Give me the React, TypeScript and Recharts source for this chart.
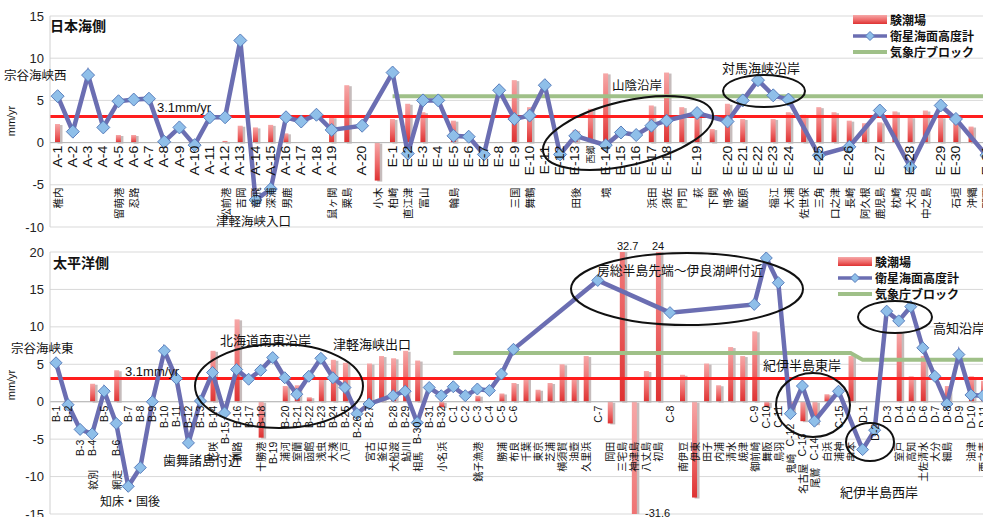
import React from 'react';
import { ComposedChart, Bar, Line, XAxis, YAxis, CartesianGrid, ReferenceLine } from 'recharts';

const NUM_FONT = "'Liberation Sans', Arial, 'Noto Sans CJK JP', sans-serif";
const JP_FONT = "'Noto Sans CJK JP', 'Liberation Sans', sans-serif";

// ---- 日本海側 ----
const jpCodes = [
  'A-1', 'A-2', 'A-3', 'A-4', 'A-5', 'A-6', 'A-7', 'A-8', 'A-9', 'A-10',
  'A-11', 'A-12', 'A-13', 'A-14', 'A-15', 'A-16', 'A-17', 'A-18', 'A-19', '',
  'A-20', '', 'E-1', 'E-2', 'E-3', 'E-4', 'E-5', 'E-6', 'E-7', 'E-8',
  'E-9', 'E-10', 'E-11', 'E-12', 'E-13', '西郷', 'E-14', 'E-15', 'E-16', 'E-17',
  'E-18', '', 'E-19', '', 'E-20', 'E-21', 'E-22', 'E-23', 'E-24', '',
  'E-25', '', 'E-26', '', 'E-27', '', 'E-28', '', 'E-29', 'E-30',
  '', 'E-31',
];
const jpNames = [
  '稚内', '', '', '', '留萌港', '忍路', '', '', '', '',
  '', '松前港', '吉岡', '竜飛', '深浦', '男鹿', '', '', '鼠ヶ関', '粟島',
  '', '小木', '柏崎', '直江津', '富山', '', '輪島', '', '', '',
  '三国', '舞鶴', '', '', '田後', '', '境', '', '', '浜田',
  '須佐', '門司', '萩', '下関', '博多', '厳原', '', '福江', '大浦', '佐世保',
  '三角', '口之津', '長崎', '阿久根', '鹿児島', '枕崎', '大泊', '中之島', '', '石垣',
  '沖縄', '那覇',
];
const jpGauge = [
  2.2, null, null, null, 0.9, 0.9, null, null, null, null,
  null, 0.2, 2.0, 1.8, 2.1, 1.1, null, null, 3.0, 6.8,
  null, -4.5, 2.8, 4.6, 3.6, null, 2.6, null, null, null,
  7.4, 4.2, null, null, 1.5, 4.0, 8.2, null, null, 4.4,
  8.3, 4.2, 3.8, 1.6, 4.6, 2.8, null, 2.8, 3.6, 3.3,
  4.2, 3.6, 2.6, 2.3, 2.4, 3.7, 3.0, 3.8, 3.0, 3.2,
  1.9, null,
];
const jpSat = [
  5.5, 1.3, 8.0, 1.8, 4.9, 5.1, 5.2, 0.1, 1.8, -0.3,
  3.0, 3.0, 12.1, -6.8, -5.5, 3.0, 2.5, 3.3, 1.5, null,
  2.0, null, 8.3, -1.3, 5.0, 5.0, 0.8, 0.7, -1.4, 6.2,
  2.8, 3.2, 6.8, -1.4, 0.8, null, -0.3, 1.2, 0.9, 2.0,
  2.6, null, 3.5, null, 2.5, 5.0, 7.4, 5.6, 5.1, null,
  -1.5, null, -0.5, null, 3.8, null, -2.9, null, 4.4, 2.8,
  null, -1.5,
];
const jpJma = [
  null, null, null, null, null, null, null, null, null, null,
  null, null, null, null, null, null, null, null, null, null,
  null, null, 5.5, 5.5, 5.5, 5.5, 5.5, 5.5, 5.5, 5.5,
  5.5, 5.5, 5.5, 5.5, 5.5, 5.5, 5.5, 5.5, 5.5, 5.5,
  5.5, 5.5, 5.5, 5.5, 5.5, 5.5, 5.5, 5.5, 5.5, 5.5,
  5.5, 5.5, 5.5, 5.5, 5.5, 5.5, 5.5, 5.5, 5.5, 5.5,
  5.5, 5.5,
];

// ---- 太平洋側 ----
const paCodes = [
  'B-1', 'B-2', 'B-3', 'B-4', 'B-5', 'B-6', 'B-7', 'B-8', 'B-9', 'B-10',
  'B-11', 'B-12', 'B-13', 'B-14', 'B-15', 'B-16', 'B-17', 'B-18', 'B-19', 'B-20',
  'B-21', 'B-22', 'B-23', 'B-24', 'B-25', 'B-26', 'B-27', '', 'B-28', 'B-29',
  'B-30', 'B-31', 'B-32', 'C-1', 'C-2', 'C-3', 'C-4', 'C-5', 'C-6', '',
  '', '', '', '', '', 'C-7', '', '', '', '',
  '', 'C-8', '', '', '', '', '', '', 'C-9', 'C-10',
  'C-11', 'C-12', 'C-13', 'C-14', '', 'C-15', '', 'D-1', 'D-2', 'D-3',
  'D-4', 'D-5', 'D-6', 'D-7', 'D-8', 'D-9', 'D-10', 'D-11',
];
const paNames = [
  '', '', '', '紋別', '', '網走', '', '', '', '',
  '', '', '', '花咲', '', '釧路', '', '十勝港', '', '浦河',
  '室蘭', '函館', '浅虫', '大湊', '八戸', '', '宮古', '釜石', '大船渡', '鮎川',
  '相馬', '', '小名浜', '', '', '銚子漁港', '', '勝浦', '布良', '千葉',
  '東京', '芝浦', '横須賀', '油壺', '久里浜', '', '岡田', '三宅島', '神津島', '八丈島',
  '初島', '', '南伊豆', '伊東', '田子', '内浦', '清水', '焼津', '御前崎', '舞阪',
  '鳥羽', '鬼崎', '名古屋', '尾鷲', '白浜', '浦神', '串本', '', '', '',
  '室戸', '高知', '土佐清水', '大分', '細島', '', '油津', '西之表',
];
const paGauge = [
  null, null, null, 2.4, null, 4.2, null, null, null, null,
  null, null, null, 6.8, null, 11.0, null, -4.8, null, 2.1,
  2.2, 0.6, 3.2, 5.6, 5.2, null, 5.1, 6.1, 5.8, 6.8,
  5.5, null, -0.7, null, null, 0.8, null, 1.1, 2.5, 3.2,
  1.6, 2.5, 5.0, 3.3, 6.1, null, -2.9, 32.7, -31.6, 4.1,
  24, null, 3.6, -12.8, 5.1, 2.2, 7.3, 6.1, 9.4, -0.7,
  null, -1.5, -2.6, -3.0, 1.0, null, 6.1, null, null, null,
  9.2, 3.4, 6.1, null, 2.1, null, 3.4, 2.8,
];
const paSat = [
  5.2, -0.4, -3.7, -4.3, 1.4, -2.9, -11.3, -8.8, 0.0, 6.8,
  3.1, -5.5, 0.1, 3.9, -1.5, 4.3, 3.0, 4.2, 5.9, 3.2,
  1.0, 3.4, 5.8, 3.2, 1.9, -1.6, -0.3, null, 0.8, 1.4,
  -2.8, 1.9, 0.8, 2.0, 0.8, 1.7, 1.5, 3.7, 7.0, null,
  null, null, null, null, null, 16.2, null, null, null, null,
  null, 11.9, null, null, null, null, null, null, 13.0, 19.2,
  15.9, -1.6, 2.1, -2.6, null, 1.4, null, -6.4, -3.8, 12.1,
  10.8, 12.7, 7.2, 3.4, -0.3, 6.3, 0.9, 0.8,
];
const paJma = [
  null, null, null, null, null, null, null, null, null, null,
  null, null, null, null, null, null, null, null, null, null,
  null, null, null, null, null, null, null, null, null, null,
  null, null, null, 6.5, 6.5, 6.5, 6.5, 6.5, 6.5, 6.5,
  6.5, 6.5, 6.5, 6.5, 6.5, 6.5, 6.5, 6.5, 6.5, 6.5,
  6.5, 6.5, 6.5, 6.5, 6.5, 6.5, 6.5, 6.5, 6.5, 6.5,
  6.5, 6.5, 6.5, 6.5, 6.5, 6.5, 6.5, 5.6, 5.6, 5.6,
  5.6, 5.6, 5.6, 5.6, 5.6, 5.6, 5.6, 5.6,
];

const TREND = 3.1;

const buildRows = (codes: string[], names: string[], gauge: (number | null)[], sat: (number | null)[], jma: (number | null)[]) =>
  codes.map((c, i) => ({ key: c || names[i], code: c, name: names[i], gauge: gauge[i], sat: sat[i], jma: jma[i], zero: 0 }));

const jpRows = buildRows(jpCodes, jpNames, jpGauge, jpSat, jpJma);
const paRows = buildRows(paCodes, paNames, paGauge, paSat, paJma);

// codes pushed down in the original layout (px)
const paDrop: Record<string, number> = {
  'B-3': 34, 'B-4': 34, 'B-6': 34, 'B-19': 36, 'B-15': 16, 'B-26': 10, 'B-30': 16,
  'C-12': 18, 'C-13': 28, 'C-14': 32, 'D-2': 18,
};

const GaugeBar = (p: any) => {
  let { x, y, width, height } = p;
  if (x == null || y == null || !width || !height) return <g />;
  if (height < 0) { y += height; height = -height; }
  return (
    <g>
      <rect x={x + 2.5} y={y + 1} width={width} height={height} fill="#c6bcbc" />
      <rect x={x} y={y} width={width} height={height} fill="url(#gaugeGrad)" />
    </g>
  );
};

const diamond = (r: number) => (p: any) => {
  const { cx, cy, index, payload } = p;
  if (cx == null || cy == null || payload?.sat == null) return <g key={`d${index}`} />;
  return (
    <polygon key={`d${index}`} points={`${cx},${cy - r} ${cx + r},${cy} ${cx},${cy + r} ${cx - r},${cy}`}
      fill="#8fbfe9" stroke="#5a7fbd" strokeWidth={1} />
  );
};

type LabelCfg = { codeSize: number; stretch: number; nameSize: number; codeGap: number; nameGap: number; drop: Record<string, number> };

const catLabel = (cfg: LabelCfg) => (p: any) => {
  const { cx, cy, index, payload } = p;
  if (cx == null || cy == null || !payload) return <g key={`l${index}`} />;
  const off = cfg.drop[payload.code] || 0;
  const nameOff = off > 6 ? off - 6 : 0;
  const cjk = /[^\x00-\x7f]/.test(payload.code);
  return (
    <g key={`l${index}`}>
      {payload.code && (
        <text transform={`translate(${cx},${cy + cfg.codeGap + off}) rotate(-90) scale(${cjk ? 1 : cfg.stretch},1)`}
          textAnchor="end" dominantBaseline="central" fontSize={cjk ? 9 : cfg.codeSize}
          fontFamily={cjk ? JP_FONT : NUM_FONT} fill="#111">{payload.code}</text>
      )}
      {payload.name && (
        <text transform={`translate(${cx},${cy + cfg.nameGap + nameOff}) rotate(-90)`}
          textAnchor="end" dominantBaseline="central" fontSize={cfg.nameSize}
          fontFamily={JP_FONT} fill="#111">{payload.name}</text>
      )}
    </g>
  );
};

const Panel = ({ rows, width, height, top, bottom, domain, ticks, r, cfg }: any) => (
  <ComposedChart width={width} height={height} data={rows} margin={{ top, right: 0, bottom, left: 0 }}>
    <CartesianGrid vertical={false} stroke="#d9d9d9" />
    <XAxis dataKey="key" hide />
    <YAxis domain={domain} ticks={ticks} width={50} allowDataOverflow interval={0}
      axisLine={{ stroke: '#d0d0d0' }} tickLine={false} tickSize={0} tickMargin={6}
      tick={{ fontSize: 13, fill: '#222', fontFamily: NUM_FONT }} />
    <ReferenceLine y={0} stroke="#b5b5b5" />
    <Bar dataKey="gauge" barSize={5} shape={GaugeBar} isAnimationActive={false} />
    <Line dataKey="jma" stroke="#9fc088" strokeWidth={4} dot={false} activeDot={false} isAnimationActive={false} />
    <ReferenceLine y={TREND} stroke="#ff1e1e" strokeWidth={3} />
    <Line dataKey="sat" stroke="#6b6eb2" strokeWidth={4.5} connectNulls dot={diamond(r)} activeDot={false} isAnimationActive={false} />
    <Line dataKey="zero" stroke="none" dot={catLabel(cfg)} activeDot={false} isAnimationActive={false} />
  </ComposedChart>
);

const notes = [
  { t: '日本海側', x: 50, y: 31, s: 14, b: true },
  { t: '宗谷海峡西', x: 4, y: 80, s: 12.5 },
  { t: '3.1mm/yr', x: 157, y: 112, s: 13 },
  { t: '津軽海峡入口', x: 216, y: 226, s: 12.5 },
  { t: '山陰沿岸', x: 612, y: 90, s: 12.5 },
  { t: '対馬海峡沿岸', x: 722, y: 73, s: 13 },
  { t: '太平洋側', x: 53, y: 268, s: 14, b: true },
  { t: '宗谷海峡東', x: 11, y: 353, s: 12.5 },
  { t: '3.1mm/yr', x: 125, y: 376, s: 13 },
  { t: '知床・国後', x: 100, y: 506, s: 12 },
  { t: '歯舞諸島付近', x: 163, y: 465, s: 13 },
  { t: '北海道南東沿岸', x: 220, y: 345, s: 13 },
  { t: '津軽海峡出口', x: 333, y: 349, s: 13 },
  { t: '房総半島先端～伊良湖岬付近', x: 597, y: 275, s: 12.8 },
  { t: '紀伊半島東岸', x: 763, y: 370, s: 13 },
  { t: '紀伊半島西岸', x: 840, y: 497, s: 13 },
  { t: '高知沿岸', x: 933, y: 333, s: 13 },
  { t: '32.7', x: 617, y: 250, s: 11 },
  { t: '24', x: 652, y: 250, s: 11 },
  { t: '-31.6', x: 645, y: 517, s: 11 },
];

const rings = [
  { cx: 628, cy: 133, rx: 87, ry: 32, a: -13 },
  { cx: 764, cy: 91, rx: 41, ry: 16, a: 0 },
  { cx: 279, cy: 386, rx: 84, ry: 42, a: 0 },
  { cx: 687, cy: 289, rx: 116, ry: 36, a: 0 },
  { cx: 813, cy: 405, rx: 37, ry: 32, a: 0 },
  { cx: 870, cy: 442, rx: 24, ry: 19, a: 0 },
  { cx: 895, cy: 317, rx: 37, ry: 16, a: 0 },
];

const LegendBox = ({ x, y }: { x: number; y: number }) => (
  <g fontFamily={JP_FONT} fontSize={12} fontWeight={600} fill="#111">
    <rect x={x} y={y - 5} width={34} height={9} fill="url(#gaugeGrad)" />
    <text x={x + 37} y={y + 4.5}>験潮場</text>
    <line x1={x} x2={x + 34} y1={y + 16} y2={y + 16} stroke="#6b6eb2" strokeWidth={3.5} />
    <polygon points={`${x + 17},${y + 11.5} ${x + 21.5},${y + 16} ${x + 17},${y + 20.5} ${x + 12.5},${y + 16}`} fill="#8fbfe9" stroke="#5a7fbd" />
    <text x={x + 37} y={y + 20.5}>衛星海面高度計</text>
    <line x1={x} x2={x + 34} y1={y + 32} y2={y + 32} stroke="#9fc088" strokeWidth={4} />
    <text x={x + 37} y={y + 36.5}>気象庁ブロック</text>
  </g>
);

export default function App() {
  return (
    <div style={{ position: 'absolute', left: 0, top: 0, width: 983, height: 517, overflow: 'hidden', background: '#fff' }}>
      <svg width={0} height={0} style={{ position: 'absolute' }}>
        <defs>
          <linearGradient id="gaugeGrad" x1="0" y1="0" x2="0" y2="1">
            <stop offset="0%" stopColor="#f6a8a8" />
            <stop offset="55%" stopColor="#ee6a6a" />
            <stop offset="100%" stopColor="#de3232" />
          </linearGradient>
        </defs>
      </svg>
      <div style={{ position: 'absolute', left: 0, top: 0 }}>
        <Panel rows={jpRows} width={994} height={235} top={16} bottom={8}
          domain={[-10, 15]} ticks={[-10, -5, 0, 5, 10, 15]} r={6.5}
          cfg={{ codeSize: 12, stretch: 1.18, nameSize: 10.5, codeGap: 3, nameGap: 45, drop: {} }} />
      </div>
      <div style={{ position: 'absolute', left: 0, top: 235 }}>
        <Panel rows={paRows} width={989} height={285} top={17} bottom={6}
          domain={[-15, 20]} ticks={[-15, -10, -5, 0, 5, 10, 15, 20]} r={6}
          cfg={{ codeSize: 10.5, stretch: 1, nameSize: 10, codeGap: 4, nameGap: 40, drop: paDrop }} />
      </div>
      <svg width={983} height={517} style={{ position: 'absolute', left: 0, top: 0, pointerEvents: 'none' }}>
        {rings.map((e, i) => (
          <ellipse key={i} cx={e.cx} cy={e.cy} rx={e.rx} ry={e.ry} fill="none" stroke="#111" strokeWidth={2}
            transform={`rotate(${e.a},${e.cx},${e.cy})`} />
        ))}
        {notes.map((n, i) => (
          <text key={i} x={n.x} y={n.y} fontSize={n.s} fontWeight={n.b ? 700 : 400} fill="#111"
            fontFamily={/^[-\d.]/.test(n.t) ? NUM_FONT : JP_FONT}>{n.t}</text>
        ))}
        <text transform="translate(15,121) rotate(-90)" textAnchor="middle" fontSize={11} fontFamily={NUM_FONT} fill="#111">mm/yr</text>
        <text transform="translate(15,385) rotate(-90)" textAnchor="middle" fontSize={11} fontFamily={NUM_FONT} fill="#111">mm/yr</text>
        <LegendBox x={853} y={20} />
        <LegendBox x={838} y={262} />
      </svg>
    </div>
  );
}
